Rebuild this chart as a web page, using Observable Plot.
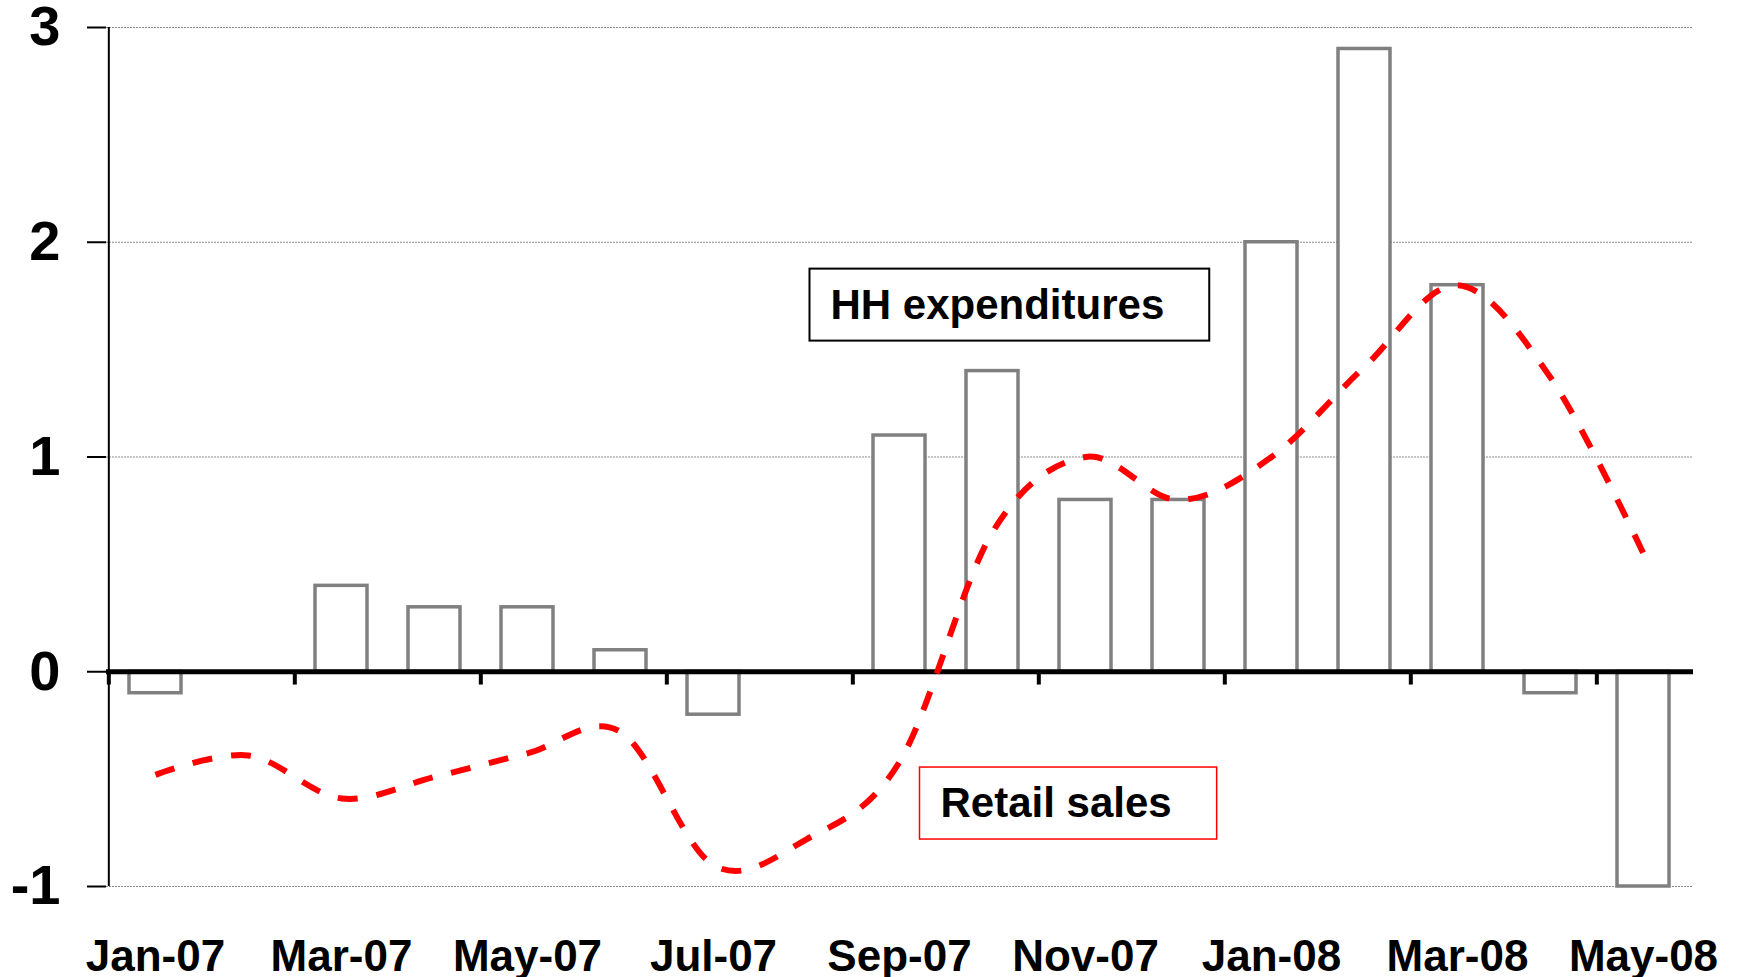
<!DOCTYPE html>
<html>
<head>
<meta charset="utf-8">
<script src="https://cdn.jsdelivr.net/npm/d3@7"></script>
<script src="https://cdn.jsdelivr.net/npm/@observablehq/plot@0.6"></script>
<style>
  html, body { margin: 0; padding: 0; background: #ffffff; }
  #chart { width: 1737px; height: 977px; overflow: hidden; }
</style>
</head>
<body>
<div id="chart"></div>
<script>
// ---- data ----
const months = ["Jan-07","Feb-07","Mar-07","Apr-07","May-07","Jun-07","Jul-07","Aug-07","Sep-07","Oct-07","Nov-07","Dec-07","Jan-08","Feb-08","Mar-08","Apr-08","May-08"];
const hhExpenditures = [-0.1, 0, 0.4, 0.3, 0.3, 0.1, -0.2, 0, 1.1, 1.4, 0.8, 0.8, 2.0, 2.9, 1.8, -0.1, -1.0];
const retailSales = [-0.48, -0.39, -0.59, -0.49, -0.38, -0.28, -0.9, -0.78, -0.42, 0.65, 1.0, 0.8, 1.0, 1.42, 1.8, 1.37, 0.55];
const labelMonths = months.filter((d, i) => i % 2 === 0);
const yTicks = [-1, 0, 1, 2, 3];
const gridTicks = [-1, 1, 2, 3];
const annotationLabels = ["HH expenditures", "Retail sales"];
const annotationMonths = ["Aug-07", "Sep-07"];
const annotationValues = [1.707, -0.614];
const annotationColors = ["#000000", "#ff0000"];

// ---- build ----
const W = 1737, H = 977;
const mL = 106, mR = 44, mT = 27, mB = 91;
const step = (W - mL - mR) / months.length;

const table = months.map((m, i) => ({month: m, hh: hhExpenditures[i], retail: retailSales[i]}));
const annots = annotationLabels.map((l, i) => ({label: l, month: annotationMonths[i], value: annotationValues[i]}));

const chart = Plot.plot({
  width: W,
  height: H,
  marginLeft: mL,
  marginRight: mR,
  marginTop: mT,
  marginBottom: mB,
  style: {fontFamily: "'Liberation Sans', Arial, sans-serif", background: "#ffffff", color: "#000000"},
  x: {type: "band", domain: months, paddingInner: 0.44, paddingOuter: 0.22, label: null},
  y: {domain: [-1, 3], label: null},
  marks: [
    Plot.gridY(gridTicks, {stroke: "#8a8a8a", strokeOpacity: 1, strokeWidth: 1, strokeDasharray: "2,1"}),
    Plot.barY(table.filter(d => d.hh !== 0), {x: "month", y: "hh", fill: "#ffffff", stroke: "#808080", strokeWidth: 3.5}),
    Plot.ruleY([0], {stroke: "#000000", strokeWidth: 5}),
    Plot.ruleX(labelMonths, {y1: 0, y2: -0.062, dx: -step / 2, stroke: "#000000", strokeWidth: 4}),
    Plot.ruleX([months[0]], {y1: -1, y2: 3, dx: -step / 2, stroke: "#000000", strokeWidth: 2}),
    Plot.line(table, {x: "month", y: "retail", curve: "cardinal", stroke: "#ff0000", strokeWidth: 6, strokeDasharray: "20,19", strokeLinecap: "butt"}),
    Plot.axisY({ticks: yTicks, tickFormat: d => String(d), tickSize: 19, tickPadding: 27, fontSize: 56, fontWeight: "bold", strokeWidth: 2, label: null}),
    Plot.axisX({ticks: labelMonths, tickSize: 0, tickPadding: 53, fontSize: 44, fontWeight: "bold", label: null}),
    Plot.text(annots, {x: "month", y: "value", text: "label", textAnchor: "start", dx: 24, fontSize: 42, fontWeight: "bold", fill: "#000000"})
  ]
});

document.getElementById("chart").appendChild(chart);

const svg = chart.tagName.toLowerCase() === "svg" ? chart : chart.querySelector("svg");
const svgRect = svg.getBoundingClientRect();
const texts = Array.from(svg.querySelectorAll("text")).filter(t => annotationLabels.includes(t.textContent));
texts.forEach(t => {
  const i = annotationLabels.indexOf(t.textContent);
  if (i === 1) {
    // Retail sales label starts a little further right within its band
    const x0 = +t.getAttribute("x");
    if (!isNaN(x0) && t.hasAttribute("x")) t.setAttribute("x", x0 + 17);
    else {
      const m = /translate\(([-\d.]+),\s*([-\d.]+)\)/.exec(t.getAttribute("transform") || "");
      if (m) t.setAttribute("transform", `translate(${+m[1] + 17},${m[2]})`);
    }
  }
  const r = t.getBoundingClientRect();
  const x = r.left - svgRect.left, y = r.top - svgRect.top;
  const rect = document.createElementNS("http://www.w3.org/2000/svg", "rect");
  rect.setAttribute("x", x - 21);
  rect.setAttribute("y", y - 12);
  rect.setAttribute("width", r.width + 21 + 45);
  rect.setAttribute("height", r.height + 25);
  rect.setAttribute("fill", "#ffffff");
  rect.setAttribute("stroke", annotationColors[i]);
  rect.setAttribute("stroke-width", i === 0 ? 2 : 1.5);
  let g = t;
  while (g.parentNode && g.parentNode !== svg) g = g.parentNode;
  svg.insertBefore(rect, g);
});
</script>
</body>
</html>
